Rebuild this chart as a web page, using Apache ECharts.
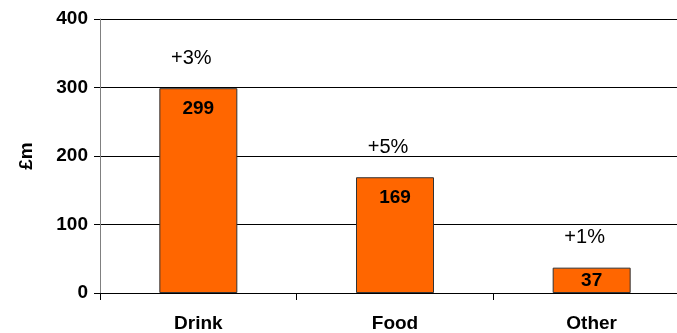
<!DOCTYPE html>
<html><head><meta charset="utf-8">
<script src="https://cdn.jsdelivr.net/npm/echarts@6/dist/echarts.min.js"></script>
<style>html,body{margin:0;padding:0;background:#fff;overflow:hidden}#c{width:690px;height:333px}</style>
</head><body><div id="c"></div>
<script>
const categories = ['Drink', 'Food', 'Other'];
const values = [299, 169, 37];
const growth = ['+3%', '+5%', '+1%'];
const yTicks = [0, 100, 200, 300, 400];

const FONT = '"Liberation Sans", Arial, sans-serif';
const chart = echarts.init(document.getElementById('c'));
chart.setOption({
  animation: false,
  grid: { left: 100, top: 19, right: 0, height: 274, containLabel: false },
  xAxis: {
    type: 'category', data: categories,
    axisLine: { lineStyle: { color: '#000', width: 1 } },
    axisTick: { show: true, length: 7, inside: false, alignWithLabel: false, lineStyle: { color: '#000' } },
    axisLabel: { margin: 21, fontFamily: FONT, fontSize: 19, fontWeight: 'bold', color: '#000' }
  },
  yAxis: {
    type: 'value', min: yTicks[0], max: yTicks[yTicks.length - 1], interval: 100,
    name: '£m', nameLocation: 'middle', nameGap: 64, nameRotate: 90,
    nameTextStyle: { fontFamily: FONT, fontSize: 19, fontWeight: 'bold', color: '#000' },
    axisLine: { show: true, lineStyle: { color: '#808080', width: 1 } },
    axisTick: { show: true, length: 6, lineStyle: { color: '#000' } },
    axisLabel: { margin: 12, fontFamily: FONT, fontSize: 19, fontWeight: 'bold', color: '#000' },
    splitLine: { show: true, lineStyle: { color: '#000', width: 1 } }
  },
  series: [
    {
      type: 'bar', barWidth: 78,
      data: values.map(v => ({
        value: v,
        label: { position: v < 60 ? 'inside' : 'insideTop' }
      })),
      itemStyle: { color: '#FF6600', borderColor: '#333', borderWidth: 1 },
      label: { show: true, distance: 11, fontFamily: FONT, fontSize: 19, fontWeight: 'bold', color: '#000' },
      z: 3
    },
    {
      type: 'bar', barWidth: 78, barGap: '-100%',
      data: values,
      itemStyle: { color: 'transparent', borderWidth: 0 },
      label: { show: true, position: 'top', distance: 20, offset: [-7, 0], fontFamily: FONT, fontSize: 20, color: '#000',
        formatter: p => growth[p.dataIndex] },
      silent: true, z: 4
    }
  ]
});
</script></body></html>
